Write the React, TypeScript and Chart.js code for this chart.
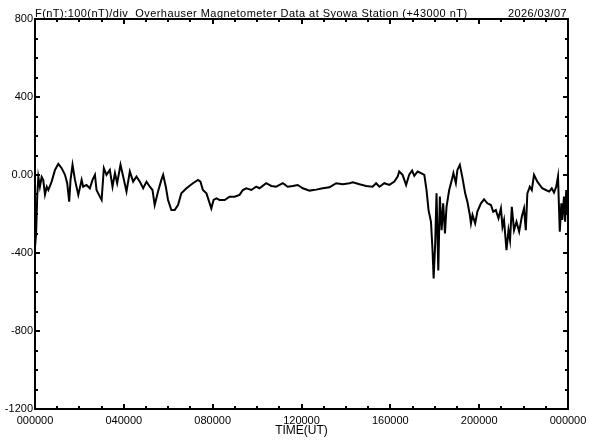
import React, { useEffect, useRef } from "react";
import { Chart, registerables } from "chart.js";

Chart.register(...registerables);

const titleText = "F(nT):100(nT)/div  Overhauser Magnetometer Data at Syowa Station (+43000 nT)";
const dateText = "2026/03/07";
const xAxisTitle = "TIME(UT)";
const xTickLabels = ["000000", "040000", "080000", "120000", "160000", "200000", "000000"];

// time of day in hours (UT)
const hours = [
  0.0, 0.05, 0.1, 0.15, 0.22, 0.3, 0.37, 0.45, 0.53, 0.6, 0.75, 0.9, 1.05, 1.2, 1.35, 1.45, 1.54, 1.6, 1.69, 1.8,
  1.95, 2.1, 2.17, 2.32, 2.47, 2.59, 2.7, 2.77, 2.92, 3.0, 3.1, 3.22, 3.37, 3.49, 3.6, 3.7, 3.85, 3.97, 4.12, 4.27,
  4.42, 4.57, 4.72, 4.87, 5.02, 5.17, 5.29, 5.39, 5.54, 5.69, 5.77, 5.89, 5.99, 6.14, 6.29, 6.44, 6.59, 6.82, 7.11, 7.34,
  7.45, 7.56, 7.72, 7.94, 8.04, 8.17, 8.31, 8.54, 8.76, 8.99, 9.21, 9.36, 9.51, 9.74, 9.96, 10.11, 10.41, 10.64, 10.86, 11.16,
  11.38, 11.61, 11.83, 12.06, 12.36, 12.66, 12.96, 13.26, 13.56, 13.86, 14.16, 14.31, 14.61, 14.91, 15.2, 15.36, 15.51, 15.73, 15.96, 16.18,
  16.33, 16.4, 16.55, 16.71, 16.85, 16.98, 17.08, 17.23, 17.38, 17.53, 17.63, 17.72, 17.83, 17.9, 17.95, 18.02, 18.08, 18.16, 18.23, 18.31,
  18.38, 18.46, 18.53, 18.65, 18.77, 18.84, 18.95, 19.02, 19.13, 19.25, 19.37, 19.47, 19.58, 19.63, 19.7, 19.82, 19.92, 20.08, 20.22, 20.37,
  20.53, 20.63, 20.75, 20.87, 20.98, 21.05, 21.12, 21.23, 21.32, 21.39, 21.47, 21.57, 21.68, 21.8, 21.92, 22.02, 22.1, 22.17, 22.28, 22.37,
  22.47, 22.62, 22.84, 23.0, 23.15, 23.27, 23.37, 23.47, 23.55, 23.63, 23.7, 23.74, 23.82, 23.87, 23.92, 23.96,
];

// F - 43000 nT
const fValues = [
  -370, -300, -110, -10, -60, -10, -25, -100, -60, -77, -34, 26, 57, 35, 1, -42, -137, -25, 52, -25,
  -102, -25, -60, -51, -68, -25, 1, -77, -111, -128, 35, 1, 26, -60, 10, -42, 52, -8, -85, 18,
  -34, -8, -34, -68, -34, -60, -77, -154, -85, -25, 1, -60, -128, -180, -180, -154, -94, -68, -42, -25,
  -34, -77, -94, -171, -128, -120, -128, -128, -111, -111, -102, -77, -68, -77, -60, -68, -42, -56, -60, -42,
  -60, -56, -51, -68, -80, -75, -68, -63, -42, -47, -42, -37, -47, -56, -60, -42, -60, -42, -51, -34,
  -8, 18, 1, -51, 1, 23, -4, 18, 10, 1, -77, -180, -240, -386, -530, -351, -94, -489, -111, -283,
  -145, -300, -163, -77, -25, 10, -42, 26, 52, -16, -94, -137, -205, -248, -205, -248, -188, -145, -125, -145,
  -154, -188, -180, -222, -171, -266, -231, -386, -283, -334, -163, -283, -240, -291, -214, -171, -283, -94, -60, -77,
  1, -34, -68, -77, -85, -68, -90, -60, -8, -291, -145, -231, -111, -240, -77, -205,
];

const FONT = '"Liberation Sans", Arial, sans-serif';

const framePlugin = {
  id: "frameTicks",
  afterDraw(chart: any) {
    const { ctx, chartArea } = chart;
    const xs = chart.scales.x;
    const ys = chart.scales.y;
    const { left, right, top, bottom } = chartArea;
    ctx.save();
    ctx.strokeStyle = "#000";
    ctx.lineWidth = 2;
    ctx.beginPath();
    ctx.rect(left, top, right - left, bottom - top);
    ctx.stroke();
    ctx.lineWidth = 2;
    ctx.beginPath();
    for (let h = 0; h <= 24; h++) {
      const x = Math.round(xs.getPixelForValue(h));
      const len = h % 4 === 0 ? 5 : 3;
      ctx.moveTo(x, bottom);
      ctx.lineTo(x, bottom - len);
      ctx.moveTo(x, top);
      ctx.lineTo(x, top + len);
    }
    for (let v = -1200; v <= 800; v += 100) {
      const y = Math.round(ys.getPixelForValue(v));
      const len = v % 400 === 0 ? 5 : 3;
      ctx.moveTo(left, y);
      ctx.lineTo(left + len, y);
      ctx.moveTo(right, y);
      ctx.lineTo(right - len, y);
    }
    ctx.stroke();
    ctx.fillStyle = "#000";
    ctx.font = `11px ${FONT}`;
    ctx.textBaseline = "alphabetic";
    ctx.textAlign = "left";
    (ctx as any).letterSpacing = "0.45px";
    ctx.fillText(titleText, left, 17);
    ctx.textAlign = "right";
    (ctx as any).letterSpacing = "0.4px";
    ctx.fillText(dateText, right - 1, 17);
    (ctx as any).letterSpacing = "0px";
    ctx.restore();
  },
};

export default function App() {
  const ref = useRef<HTMLCanvasElement | null>(null);
  useEffect(() => {
    if (!ref.current) return;
    const chart = new Chart(ref.current, {
      type: "line",
      data: {
        datasets: [
          {
            data: hours.map((h, i) => ({ x: h, y: fValues[i] })),
            borderColor: "#000",
            borderWidth: 2,
            pointRadius: 0,
            tension: 0,
            fill: false,
          },
        ],
      },
      options: {
        animation: false,
        responsive: false,
        devicePixelRatio: 1,
        layout: { padding: { top: 19, right: 24, left: 0, bottom: 0 } },
        plugins: { legend: { display: false }, tooltip: { enabled: false }, title: { display: false } },
        scales: {
          x: {
            type: "linear",
            min: 0,
            max: 24,
            grid: { display: false, drawTicks: false },
            border: { display: false },
            ticks: {
              stepSize: 4,
              autoSkip: false,
              maxRotation: 0,
              padding: 5,
              color: "#000",
              font: { family: FONT, size: 11 },
              callback: (v: any) => xTickLabels[Math.round(Number(v) / 4)] ?? "",
            },
            title: {
              display: true,
              text: xAxisTitle,
              color: "#000",
              font: { family: FONT, size: 12 },
              padding: { top: 0, bottom: 2 },
            },
            afterFit: (s: any) => {
              s.height = 31;
            },
          },
          y: {
            type: "linear",
            min: -1200,
            max: 800,
            grid: { display: false, drawTicks: false },
            border: { display: false },
            ticks: {
              stepSize: 400,
              padding: 2,
              color: "#000",
              font: { family: FONT, size: 11 },
              callback: (v: any) => (Number(v) === 0 ? "0.00" : String(v)),
            },
            afterFit: (s: any) => {
              s.width = 35;
            },
          },
        },
      },
      plugins: [framePlugin],
    });
    return () => chart.destroy();
  }, []);
  return (
    <div style={{ position: "absolute", left: 0, top: 0, width: 592, height: 440, background: "#fff" }}>
      <canvas ref={ref} width={592} height={440} style={{ display: "block" }} />
    </div>
  );
}
